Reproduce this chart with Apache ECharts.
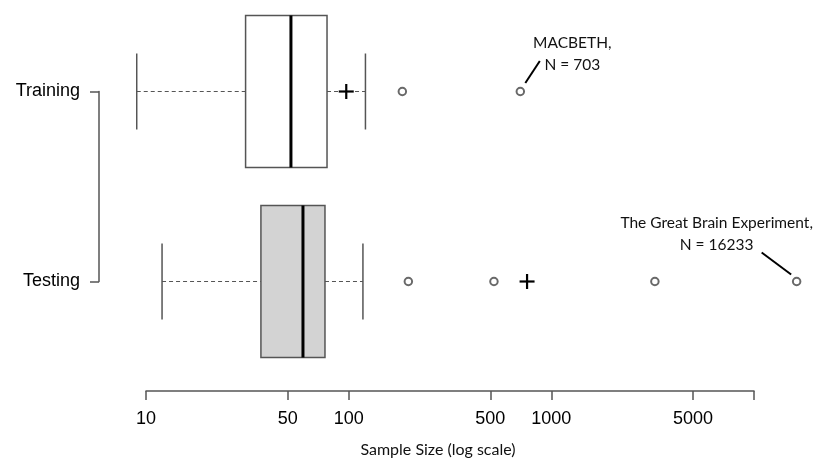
<!DOCTYPE html>
<html>
<head>
<meta charset="utf-8">
<script src="https://cdn.jsdelivr.net/npm/echarts@6/dist/echarts.min.js"></script>
<style>html,body{margin:0;padding:0;background:#fff}#c{width:819px;height:460px}</style>
</head>
<body>
<div id="c"></div>
<script>
// ---- data ----
const categories = ['Testing', 'Training'];
const boxCategories = ['Training', 'Testing'];
const whiskerLow = [9.0, 12.0];
const quartile1 = [31.0, 36.9];
const medians = [51.9, 59.5];
const quartile3 = [78.2, 76.4];
const whiskerHigh = [121, 117.6];
const meanValues = [97.3, 759];
const outlierCats = ['Training', 'Training', 'Testing', 'Testing', 'Testing', 'Testing'];
const outlierValues = [184, 703, 197, 521, 3243, 16233];
const tickValues = [10, 50, 100, 500, 1000, 5000, 10000];
const tickLabels = [10, 50, 100, 500, 1000, 5000];
const annotationCats = ['Training', 'Testing'];
const annotationValues = [703, 16233];
const annotationTexts = ['MACBETH,\nN = 703', 'The Great Brain Experiment,\nN = 16233'];

// ---- styling / layout ----
const boxFills = ['#ffffff', '#d3d3d3'];
const annoLayout = [
  { line: [5, -8.5, 19.5, -30.5], text: [52, -38] },
  { line: [-35, -29, -5.5, -7], text: [-80, -48] }
];

const boxData = boxCategories.map((c, i) => [c, whiskerLow[i], quartile1[i], medians[i], quartile3[i], whiskerHigh[i]]);
const meanData = boxCategories.map((c, i) => [meanValues[i], c]);
const outlierData = outlierValues.map((v, i) => [v, outlierCats[i]]);
const annoData = annotationValues.map((v, i) => [v, annotationCats[i]]);

function renderBox(params, api) {
  const cat = api.value(0);
  const lo = api.coord([api.value(1), cat]);
  const q1 = api.coord([api.value(2), cat]);
  const md = api.coord([api.value(3), cat]);
  const q3 = api.coord([api.value(4), cat]);
  const hi = api.coord([api.value(5), cat]);
  const band = api.size([0, 1])[1];
  const hb = band * 0.4, hc = band * 0.2;
  const y = lo[1];
  const grey = '#555';
  return {
    type: 'group',
    children: [
      { type: 'line', shape: { x1: lo[0], y1: y, x2: q1[0], y2: y }, style: { stroke: grey, lineWidth: 1.2, lineDash: [4, 3] } },
      { type: 'line', shape: { x1: q3[0], y1: y, x2: hi[0], y2: y }, style: { stroke: grey, lineWidth: 1.2, lineDash: [4, 3] } },
      { type: 'line', shape: { x1: lo[0], y1: y - hc, x2: lo[0], y2: y + hc }, style: { stroke: grey, lineWidth: 1.5 } },
      { type: 'line', shape: { x1: hi[0], y1: y - hc, x2: hi[0], y2: y + hc }, style: { stroke: grey, lineWidth: 1.5 } },
      { type: 'rect', shape: { x: q1[0], y: y - hb, width: q3[0] - q1[0], height: 2 * hb }, style: { fill: boxFills[params.dataIndex], stroke: grey, lineWidth: 1.5 } },
      { type: 'line', shape: { x1: md[0], y1: y - hb, x2: md[0], y2: y + hb }, style: { stroke: '#000', lineWidth: 3 } }
    ]
  };
}

function renderMean(params, api) {
  const p = api.coord([api.value(0), api.value(1)]);
  const s = 7.5;
  return {
    type: 'group',
    children: [
      { type: 'line', shape: { x1: p[0] - s, y1: p[1], x2: p[0] + s, y2: p[1] }, style: { stroke: '#000', lineWidth: 2.2 } },
      { type: 'line', shape: { x1: p[0], y1: p[1] - s, x2: p[0], y2: p[1] + s }, style: { stroke: '#000', lineWidth: 2.2 } }
    ]
  };
}

function renderAnno(params, api) {
  const p = api.coord([api.value(0), api.value(1)]);
  const a = annoLayout[params.dataIndex];
  return {
    type: 'group',
    children: [
      { type: 'line', shape: { x1: p[0] + a.line[0], y1: p[1] + a.line[1], x2: p[0] + a.line[2], y2: p[1] + a.line[3] }, style: { stroke: '#000', lineWidth: 2 } },
      { type: 'text', x: p[0] + a.text[0], y: p[1] + a.text[1], style: { text: annotationTexts[params.dataIndex], fill: '#111', font: '15.5px Lato', align: 'center', verticalAlign: 'middle', lineHeight: 22 } }
    ]
  };
}

const chart = echarts.init(document.getElementById('c'), null, { renderer: 'canvas' });
chart.setOption({
  animation: false,
  backgroundColor: '#fff',
  grid: { left: 146, right: 65, top: 91.5, bottom: 178.5, containLabel: false },
  xAxis: {
    type: 'log', logBase: 10, min: 10, max: 10000,
    position: 'bottom', offset: 109.5,
    name: 'Sample Size (log scale)', nameLocation: 'middle', nameGap: 51,
    nameTextStyle: { fontFamily: 'Lato', fontSize: 16, color: '#111', padding: [0, 24, 0, 0] },
    axisLine: { show: true, lineStyle: { color: '#555', width: 1.5 } },
    axisTick: { show: true, length: 9, lineStyle: { color: '#555', width: 1.5 }, customValues: tickValues },
    axisLabel: { show: true, margin: 19, fontFamily: 'Liberation Sans', fontSize: 18, color: '#000', customValues: tickLabels, formatter: v => String(Math.round(v)) },
    splitLine: { show: false }, minorTick: { show: false }
  },
  yAxis: {
    type: 'category', data: categories, boundaryGap: false, offset: 47,
    axisLine: { show: true, lineStyle: { color: '#555', width: 1.5 } },
    axisTick: { show: true, length: 9, lineStyle: { color: '#555', width: 1.5 } },
    axisLabel: { margin: 19, fontFamily: 'Liberation Sans', fontSize: 18, color: '#000' },
    splitLine: { show: false }
  },
  series: [
    { type: 'custom', name: 'box', data: boxData, encode: { y: 0, x: [1, 2, 3, 4, 5] }, renderItem: renderBox, clip: false, z: 2 },
    { type: 'scatter', name: 'outliers', data: outlierData, symbol: 'emptyCircle', symbolSize: 7.5, clip: false,
      itemStyle: { color: '#444', borderColor: '#444', borderWidth: 0.9 }, z: 3 },
    { type: 'custom', name: 'mean', data: meanData, encode: { x: 0, y: 1 }, renderItem: renderMean, clip: false, z: 4 },
    { type: 'custom', name: 'annotations', data: annoData, encode: { x: 0, y: 1 }, renderItem: renderAnno, clip: false, z: 5 }
  ]
});
</script>
</body>
</html>
